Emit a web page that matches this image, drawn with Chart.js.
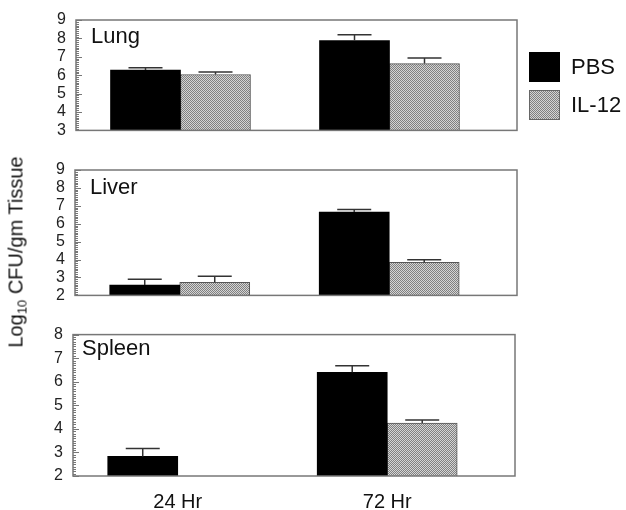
<!DOCTYPE html>
<html><head><meta charset="utf-8">
<script src="https://cdn.jsdelivr.net/npm/chart.js@4.4.0/dist/chart.umd.min.js"></script>
<style>
body{margin:0;background:#fff;width:626px;height:510px;overflow:hidden;position:relative;font-family:"Liberation Sans",Arial,sans-serif;}
canvas{position:absolute;left:0;}
.lbl{position:absolute;font-size:22px;color:#111;line-height:1;white-space:nowrap;}
.sw{position:absolute;left:529px;width:31px;height:30px;box-sizing:border-box;}
#ytitle{position:absolute;left:17px;top:252px;transform:translate(-50%,-50%) rotate(-90deg);font-size:20px;color:#111;white-space:nowrap;line-height:1;}
#ytitle sub{font-size:13px;vertical-align:-4px;}
</style></head><body>
<canvas id="c1" width="626" height="150" style="top:0px"></canvas>
<canvas id="c2" width="626" height="165" style="top:150px"></canvas>
<canvas id="c3" width="626" height="195" style="top:315px"></canvas>
<div class="lbl" style="left:91px;top:25px">Lung</div>
<div class="lbl" style="left:90px;top:176px">Liver</div>
<div class="lbl" style="left:82px;top:337px">Spleen</div>
<div class="sw" style="top:52px;background:#000"></div>
<div class="sw" style="top:90px;border:1px solid #666;background:repeating-conic-gradient(#808080 0 25%, #d4d4d4 0 50%) 0 0/2px 2px"></div>
<div class="lbl" style="left:571px;top:56px">PBS</div>
<div class="lbl" style="left:571px;top:94px">IL-12</div>
<div id="ytitle">Log<sub>10</sub> CFU/gm Tissue</div>
<script>
// ---- data ----
const categories = ['24 Hr', '72 Hr'];
const seriesNames = ['PBS', 'IL-12'];

const lungPBS = [6.28, 7.88];
const lungPBSErr = [0.12, 0.32];
const lungIL12 = [6.04, 6.63];
const lungIL12Err = [0.14, 0.30];

const liverPBS = [2.58, 6.65];
const liverPBSErr = [0.32, 0.14];
const liverIL12 = [2.73, 3.84];
const liverIL12Err = [0.34, 0.15];

const spleenPBS = [2.83, 6.40];
const spleenPBSErr = [0.34, 0.28];
const spleenIL12 = [null, 4.25];
const spleenIL12Err = [null, 0.13];

const lungYRange = [3, 9];
const liverYRange = [2, 9];
const spleenYRange = [2, 8];

// ---- helpers ----
function makePattern(ctx){
  const c = document.createElement('canvas');
  c.width = 4; c.height = 4;
  const g = c.getContext('2d');
  g.fillStyle = '#d4d4d4'; g.fillRect(0,0,4,4);
  g.fillStyle = '#808080';
  for (let y=0;y<4;y++) for (let x=0;x<4;x++) if ((x+y)%2===0) g.fillRect(x,y,1,1);
  return ctx.createPattern(c, 'repeat');
}

const errorBars = {
  id: 'errorBars',
  afterDatasetsDraw(chart){
    const ctx = chart.ctx, ys = chart.scales.y;
    chart.data.datasets.forEach((ds, i) => {
      const meta = chart.getDatasetMeta(i);
      meta.data.forEach((el, j) => {
        const v = ds.data[j].y, e = ds.errors[j];
        if (v == null || e == null) return;
        const yTop = ys.getPixelForValue(v + e);
        ctx.save();
        ctx.strokeStyle = '#333'; ctx.lineWidth = 1.5;
        ctx.beginPath();
        ctx.moveTo(el.x, el.y); ctx.lineTo(el.x, yTop);
        ctx.moveTo(el.x - 17, yTop); ctx.lineTo(el.x + 17, yTop);
        ctx.stroke();
        ctx.restore();
      });
    });
  }
};

const frame = {
  id: 'frame',
  afterDraw(chart){
    const ctx = chart.ctx, a = chart.chartArea, ys = chart.scales.y;
    ctx.save();
    ctx.strokeStyle = '#777';
    for (let k = Math.round(ys.min*10); k <= Math.round(ys.max*10); k++){
      const py = Math.round(ys.getPixelForValue(k/10)) + 0.5;
      const major = k % 10 === 0;
      ctx.lineWidth = 1;
      ctx.beginPath();
      ctx.moveTo(a.left, py); ctx.lineTo(a.left + (major ? 6 : 3), py);
      ctx.stroke();
    }
    ctx.strokeStyle = '#777'; ctx.lineWidth = 1.5;
    ctx.strokeRect(a.left, a.top, a.right - a.left, a.bottom - a.top);
    ctx.restore();
  }
};

function makePanel(id, pbs, pbsErr, il12, il12Err, yRange, pad, yWidth, showX){
  const canvas = document.getElementById(id);
  const ctx = canvas.getContext('2d');
  const pattern = makePattern(ctx);
  const toPts = arr => arr.map((v, i) => ({x: i + 1, y: v}));
  return new Chart(ctx, {
    type: 'bar',
    data: {
      datasets: [
        {label: seriesNames[0], data: toPts(pbs), errors: pbsErr, backgroundColor: '#000', borderWidth: 0},
        {label: seriesNames[1], data: toPts(il12), errors: il12Err, backgroundColor: pattern, borderColor: '#555', borderWidth: 1}
      ]
    },
    options: {
      responsive: false, animation: false, devicePixelRatio: 1,
      layout: {padding: pad},
      barThickness: 70,
      plugins: {legend: {display: false}, tooltip: {enabled: false}},
      scales: {
        x: {
          type: 'linear', min: 0.5, max: 2.61, offset: false, display: showX,
          afterBuildTicks: s => { s.ticks = categories.map((c, i) => ({value: i + 1})); },
          afterFit: s => { if (showX) s.height = 34; },
          grid: {display: false, drawTicks: false, offset: false}, border: {display: false},
          ticks: {padding: 14, autoSkip: false, maxRotation: 0, color: '#111', font: {family: 'Liberation Sans', size: 20},
                  callback: v => categories[Math.round(v) - 1] ?? ''}
        },
        y: {
          min: yRange[0], max: yRange[1],
          afterFit: s => { s.width = yWidth; },
          grid: {display: false, drawTicks: false}, border: {display: false},
          ticks: {stepSize: 1, autoSkip: false, padding: 10, color: '#222', font: {family: 'Liberation Sans', size: 16}}
        }
      }
    },
    plugins: [errorBars, frame]
  });
}

makePanel('c1', lungPBS, lungPBSErr, lungIL12, lungIL12Err, lungYRange, {top: 20, right: 109, bottom: 5, left: 0}, 76, false);
makePanel('c2', liverPBS, liverPBSErr, liverIL12, liverIL12Err, liverYRange, {top: 20, right: 109, bottom: 6, left: 0}, 75, false);
makePanel('c3', spleenPBS, spleenPBSErr, spleenIL12, spleenIL12Err, spleenYRange, {top: 17, right: 111, bottom: 0, left: 0}, 73, true);
</script>
</body></html>
